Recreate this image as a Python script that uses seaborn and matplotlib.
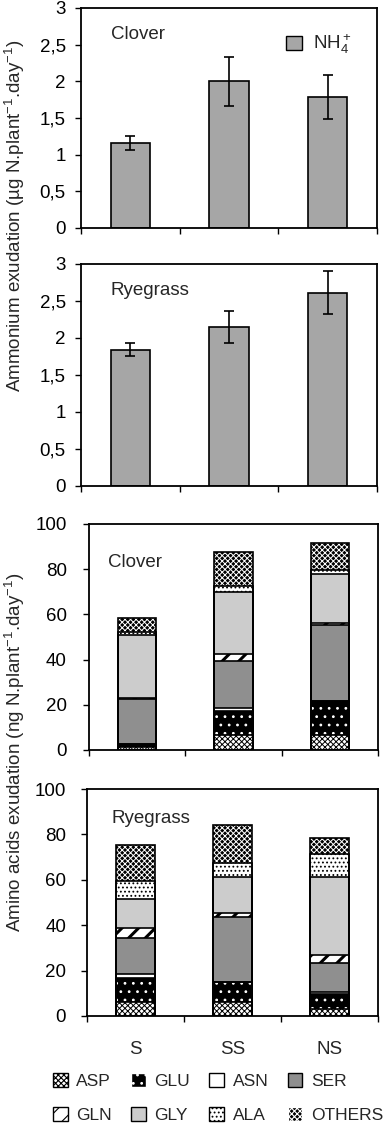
import numpy as np
import seaborn as sns
import matplotlib.pyplot as plt
from matplotlib.patches import Patch

treatments = ['S', 'SS', 'NS']

# NH4+ exudation (ug N / plant / day) with error bars
clover_nh4 = [1.16, 2.00, 1.78]
clover_nh4_err = [0.09, 0.33, 0.30]
ryegrass_nh4 = [1.84, 2.15, 2.61]
ryegrass_nh4_err = [0.09, 0.22, 0.29]
nh4_ticks = [0, 0.5, 1, 1.5, 2, 2.5, 3]
nh4_tick_labels = ['0', '0,5', '1', '1,5', '2', '2,5', '3']

# amino acid exudation (ng N / plant / day), one list per treatment
amino_acids = ['ASP', 'GLU', 'ASN', 'SER', 'GLN', 'GLY', 'ALA', 'OTHERS']
clover_S = [1.2, 1.4, 0.0, 20.0, 0.6, 27.5, 1.7, 6.1]
clover_SS = [6.6, 10.7, 1.1, 21.2, 3.0, 27.2, 2.9, 15.0]
clover_NS = [6.5, 15.0, 0.0, 34.0, 0.5, 21.8, 1.9, 11.9]
ryegrass_S = [6.0, 10.6, 1.9, 15.8, 4.4, 12.8, 8.1, 15.7]
ryegrass_SS = [6.0, 9.1, 0.0, 28.7, 1.5, 15.9, 6.2, 16.7]
ryegrass_NS = [2.9, 6.8, 1.0, 12.8, 3.3, 34.4, 10.3, 6.9]
aa_ticks = [0, 20, 40, 60, 80, 100]

# fill, hatch, hatch colour, hatch width for each amino acid
aa_styles = [
    ('white', 'xxxxxx', 'black', 0.7),    # ASP
    ('black', '..', 'white', 0.8),        # GLU
    ('white', None, 'black', 1.0),        # ASN
    ('#8f8f8f', None, 'black', 1.0),      # SER
    ('white', '//', 'black', 2.2),        # GLN
    ('#cccccc', None, 'black', 1.0),      # GLY
    ('white', '....', 'black', 0.8),      # ALA
    ('black', 'xxxxxx', 'white', 0.7),    # OTHERS
]

sns.set_style('ticks')
plt.rcParams['font.family'] = ['Liberation Sans', 'DejaVu Sans']
plt.rcParams['mathtext.fontset'] = 'custom'
plt.rcParams['mathtext.rm'] = 'Liberation Sans'
plt.rcParams['mathtext.default'] = 'regular'
plt.rcParams['hatch.linewidth'] = 0.8

W, H = 386, 1130
fig = plt.figure(figsize=(W / 100, H / 100), dpi=100)


def add_axes(left, top, right, bottom):
    return fig.add_axes([left / W, 1 - bottom / H, (right - left) / W, (bottom - top) / H])


def set_hatch_width(p, lw):
    if hasattr(p, 'set_hatch_linewidth'):
        p.set_hatch_linewidth(lw)


def style_axes(ax, ticks, labels, ymax, pad):
    ax.set_xlim(-0.5, 2.5)
    ax.set_ylim(0, ymax)
    ax.set_yticks(ticks)
    ax.set_yticklabels(labels)
    ax.set_xticks([-0.5, 0.5, 1.5, 2.5])
    ax.set_xticklabels([])
    ax.set_xlabel('')
    ax.set_ylabel('')
    for s in ax.spines.values():
        s.set_visible(True)
        s.set_color('black')
        s.set_linewidth(1.3)
    ax.tick_params(direction='out', length=4, width=1, labelsize=13.5, colors='black')
    ax.tick_params(axis='y', pad=pad)


def nh4_panel(ax, vals, errs, title):
    sns.barplot(x=treatments, y=vals, color='#a6a6a6', saturation=1, width=0.4,
                edgecolor='black', linewidth=1.2, errorbar=None, ax=ax)
    ax.errorbar(range(len(vals)), vals, yerr=errs, fmt='none', ecolor='black',
                elinewidth=1.2, capsize=3.5, capthick=1.2)
    style_axes(ax, nh4_ticks, nh4_tick_labels, 3, 7)
    ax.text(0.1, 0.88, title, transform=ax.transAxes, fontsize=13.5, va='center')


def aa_panel(ax, columns, title, tx, ty, pad):
    tops = np.array(columns).cumsum(axis=1)
    # top layer first, every lower layer is painted over it
    for i in reversed(range(len(amino_acids))):
        face, hatch, hcol, hlw = aa_styles[i]
        n0 = len(ax.patches)
        sns.barplot(x=treatments, y=tops[:, i], color=face, saturation=1, width=0.4,
                    errorbar=None, ax=ax)
        for p in ax.patches[n0:]:
            p.set_facecolor(face)
            p.set_edgecolor(hcol)
            p.set_hatch(hatch)
            set_hatch_width(p, hlw)
            p.set_linewidth(0)
    # black outline of every segment
    for i in reversed(range(len(amino_acids))):
        n0 = len(ax.patches)
        sns.barplot(x=treatments, y=tops[:, i], color='black', saturation=1, width=0.4,
                    errorbar=None, ax=ax)
        for p in ax.patches[n0:]:
            p.set_facecolor('none')
            p.set_edgecolor('black')
            p.set_hatch(None)
            p.set_linewidth(1.2)
    style_axes(ax, aa_ticks, [str(t) for t in aa_ticks], 100, pad)
    ax.text(tx, ty, title, transform=ax.transAxes, fontsize=13.5, va='center')


ax1 = add_axes(81, 8, 377, 228)
ax2 = add_axes(81, 264, 377, 486)
ax3 = add_axes(89, 524, 378, 750)
ax4 = add_axes(87, 789, 378, 1016)

nh4_panel(ax1, clover_nh4, clover_nh4_err, 'Clover')
nh4_panel(ax2, ryegrass_nh4, ryegrass_nh4_err, 'Ryegrass')
ax1.legend(handles=[Patch(facecolor='#a6a6a6', edgecolor='black', label='NH$_4^+$')],
           loc='upper left', bbox_to_anchor=(0.66, 0.93), frameon=False, fontsize=13.5,
           handlelength=0.85, handleheight=0.85, handletextpad=0.6, borderpad=0)

aa_panel(ax3, [clover_S, clover_SS, clover_NS], 'Clover', 0.065, 0.83, 12)
aa_panel(ax4, [ryegrass_S, ryegrass_SS, ryegrass_NS], 'Ryegrass', 0.085, 0.87, 11)

ax4.set_xticks([0, 1, 2], minor=True)
ax4.set_xticklabels(treatments, minor=True)
ax4.tick_params(axis='x', which='minor', length=0, pad=18, labelsize=13.5)

fig.text(15 / W, 1 - 216 / H, 'Ammonium exudation (µg N.plant$^{-1}$.day$^{-1}$)',
         rotation=90, ha='center', va='center', fontsize=13.5)
fig.text(15 / W, 1 - 752 / H, 'Amino acids exudation (ng N.plant$^{-1}$.day$^{-1}$)',
         rotation=90, ha='center', va='center', fontsize=13.5)

handles = []
for name, (face, hatch, hcol, hlw) in zip(amino_acids, aa_styles):
    h = Patch(facecolor=face, edgecolor=hcol if hatch else 'black', hatch=hatch, label=name)
    set_hatch_width(h, hlw)
    handles.append(h)
# legend fills column by column, reorder so rows read ASP GLU ASN SER / GLN GLY ALA OTHERS
order = [0, 4, 1, 5, 2, 6, 3, 7]
fig.legend(handles=[handles[i] for i in order], ncol=4, loc='center',
           bbox_to_anchor=(218 / W, 1 - 1098 / H), frameon=False, fontsize=12.5,
           handlelength=0.85, handleheight=0.85, handletextpad=0.5,
           columnspacing=1.1, labelspacing=1.0)

fig.savefig('out.png', dpi=100)
